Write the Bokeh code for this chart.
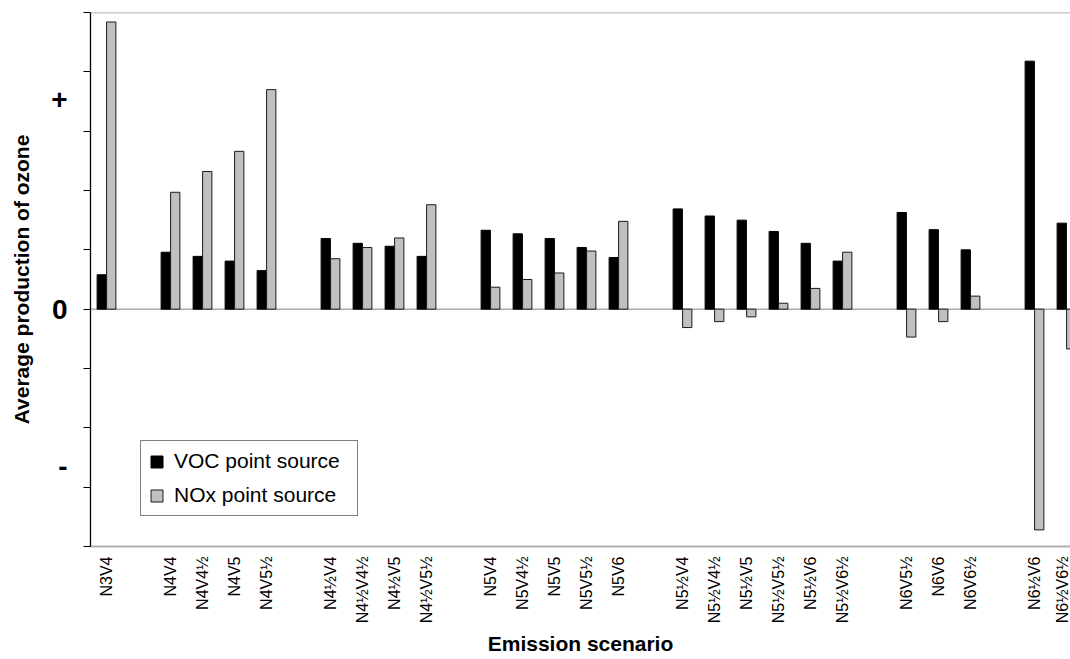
from bokeh.plotting import figure
from bokeh.models import Range1d, FixedTicker, Span, Legend, LegendItem, ColumnDataSource
from bokeh.embed import file_html
from bokeh.resources import INLINE

# ---- data (values in arbitrary units; axis shows only +, 0, -) ----
groups = [
    ["N3V4"],
    ["N4V4", "N4V4½", "N4V5", "N4V5½"],
    ["N4½V4", "N4½V4½", "N4½V5", "N4½V5½"],
    ["N5V4", "N5V4½", "N5V5", "N5V5½", "N5V6"],
    ["N5½V4", "N5½V4½", "N5½V5", "N5½V5½", "N5½V6", "N5½V6½"],
    ["N6V5½", "N6V6", "N6V6½"],
    ["N6½V6", "N6½V6½"],
]
voc = [0.58,
       0.96, 0.89, 0.81, 0.65,
       1.19, 1.11, 1.06, 0.89,
       1.33, 1.27, 1.19, 1.04, 0.87,
       1.69, 1.57, 1.50, 1.31, 1.11, 0.81,
       1.63, 1.34, 1.00,
       4.18, 1.45]
nox = [4.84,
       1.97, 2.32, 2.66, 3.70,
       0.85, 1.04, 1.20, 1.76,
       0.37, 0.50, 0.61, 0.98, 1.48,
       -0.31, -0.21, -0.13, 0.10, 0.35, 0.96,
       -0.47, -0.21, 0.22,
       -3.72, -0.67]
y_tick_values = [3.54, 0, -2.66]
y_tick_labels = ["+", "0", "-"]
y_minor_ticks = [-4, -3, -2, -1, 0, 1, 2, 3, 4, 5]

# ---- positions: one blank category between groups ----
names, xs = [], []
pos = 0
for g in groups:
    for n in g:
        names.append(n)
        xs.append(pos)
        pos += 1
    pos += 1

off = 0.148
bw = 0.29
src = ColumnDataSource(dict(
    xv=[x - off for x in xs], xn=[x + off for x in xs], voc=voc, nox=nox))

FONT = "Liberation Sans"

p = figure(width=1070, height=659, output_backend="svg", toolbar_location=None,
           x_range=Range1d(-0.5, 30.125), y_range=Range1d(-4, 5),
           min_border_left=90, min_border_right=0, min_border_top=12,
           min_border_bottom=113)
p.title.visible = False
p.outline_line_color = None
p.xgrid.visible = False
p.ygrid.visible = False
p.background_fill_color = "white"
p.border_fill_color = "white"

# zero line and top border
p.add_layout(Span(location=0, dimension="width", line_color="#808080",
                  line_width=1, level="underlay"))
p.add_layout(Span(location=5, dimension="width", line_color="#999999",
                  line_width=1.3))

r_voc = p.vbar(x="xv", top="voc", bottom=0, width=bw, source=src,
               fill_color="black", line_color="black", line_width=1)
r_nox = p.vbar(x="xn", top="nox", bottom=0, width=bw, source=src,
               fill_color="#c0c0c0", line_color="#1a1a1a", line_width=1)

# x axis
xa = p.xaxis[0]
xa.ticker = FixedTicker(ticks=xs)
xa.major_label_overrides = {x: n for x, n in zip(xs, names)}
xa.major_label_orientation = 3.14159265 / 2
xa.major_tick_line_color = None
xa.minor_tick_line_color = None
xa.major_tick_out = 0
xa.major_tick_in = 0
xa.major_label_standoff = 10
xa.major_label_text_font = FONT
xa.major_label_text_font_size = "16px"
xa.major_label_text_color = "black"
xa.axis_line_color = "#b0b0b0"
xa.axis_line_width = 2
xa.axis_label = "Emission scenario"
xa.axis_label_text_font = FONT
xa.axis_label_text_font_size = "21px"
xa.axis_label_text_font_style = "bold"
xa.axis_label_text_color = "black"
xa.axis_label_standoff = 6

# y axis
ya = p.yaxis[0]
ya.ticker = FixedTicker(ticks=y_tick_values, minor_ticks=y_minor_ticks)
ya.major_label_overrides = {v: t for v, t in zip(y_tick_values, y_tick_labels)}
ya.major_tick_line_color = None
ya.major_tick_out = 7
ya.major_tick_in = 0
ya.minor_tick_line_color = "black"
ya.minor_tick_out = 7
ya.minor_tick_in = 0
ya.minor_tick_line_width = 1
ya.major_label_standoff = 16
ya.major_label_text_font = FONT
ya.major_label_text_font_size = "28px"
ya.major_label_text_font_style = "bold"
ya.major_label_text_color = "black"
ya.axis_line_color = "black"
ya.axis_line_width = 1.3
ya.axis_label = "Average production of ozone"
ya.axis_label_text_font = FONT
ya.axis_label_text_font_size = "21px"
ya.axis_label_text_font_style = "bold"
ya.axis_label_text_color = "black"
ya.axis_label_standoff = 15

legend = Legend(items=[LegendItem(label="VOC point source", renderers=[r_voc]),
                       LegendItem(label="NOx point source", renderers=[r_nox])],
                location=(50, 30), orientation="vertical",
                label_text_font=FONT, label_text_font_size="21px",
                label_text_color="black",
                glyph_width=15, glyph_height=15, label_height=24,
                label_width=175, label_standoff=10, spacing=10, padding=8,
                margin=0, border_line_color="black", border_line_width=1,
                background_fill_color="white", background_fill_alpha=1)
p.add_layout(legend, "center")

open("out.html", "w").write(file_html(p, INLINE))
